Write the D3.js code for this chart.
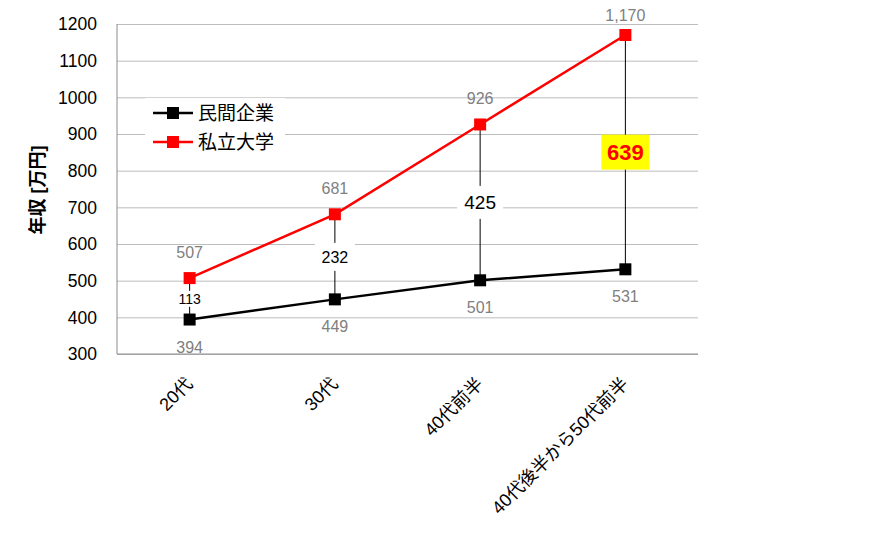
<!DOCTYPE html>
<html>
<head>
<meta charset="utf-8">
<title>年収</title>
<style>
  body { margin: 0; background: #fff; }
  svg text { font-family: "Liberation Sans", Arial, "Noto Sans CJK JP", sans-serif; }
  .grid line { stroke: #bdbdbd; stroke-width: 1; }
  .grid .domain { display: none; }
</style>
</head>
<body>
<svg width="874" height="540"></svg>
<script src="https://cdn.jsdelivr.net/npm/d3@7/dist/d3.min.js"></script>
<script>
var categories = ["20代", "30代", "40代前半", "40代後半から50代前半"];
var minkan = [394, 449, 501, 531];
var shiritsu = [507, 681, 926, 1170];
var yTicks = [300, 400, 500, 600, 700, 800, 900, 1000, 1100, 1200];
var seriesNames = ["民間企業", "私立大学"];
var seriesColors = ["#000000", "#ff0000"];

var svg = d3.select("svg");
var margin = {left: 117, right: 176, top: 24, bottom: 186};
var width = 874 - margin.left - margin.right,
    height = 540 - margin.top - margin.bottom;
var g = svg.append("g").attr("transform", "translate(" + margin.left + "," + margin.top + ")");

var x = d3.scaleBand().domain(categories).range([0, width]);
var y = d3.scaleLinear().domain([300, 1200]).range([height, 0]);
var cx = function(i) { return x(categories[i]) + x.bandwidth() / 2; };

// gridlines
g.append("g").attr("class", "grid")
  .call(d3.axisLeft(y).tickValues(yTicks).tickSize(-width).tickFormat(""));

// y tick labels
g.selectAll(".ylab").data(yTicks).enter().append("text")
  .attr("x", -20).attr("y", function(d) { return y(d); })
  .attr("dy", "0.36em").attr("text-anchor", "end")
  .style("font-size", "17.5px").attr("fill", "#000")
  .text(function(d) { return d; });

// axis lines
g.append("line").attr("x1", 0).attr("x2", 0).attr("y1", 0).attr("y2", height)
  .attr("stroke", "#8c8c8c").attr("stroke-width", 1);
g.append("line").attr("x1", 0).attr("x2", width).attr("y1", height).attr("y2", height)
  .attr("stroke", "#8c8c8c").attr("stroke-width", 1);

// y title
svg.append("text")
  .attr("transform", "translate(44,190) rotate(-90)")
  .attr("text-anchor", "middle")
  .style("font-size", "18px").style("font-weight", "bold")
  .text("年収 [万円]");

// x labels
g.selectAll(".xlab").data(categories).enter().append("text")
  .attr("transform", function(d, i) { return "translate(" + (cx(i) + 4) + "," + (height + 31) + ") rotate(-45)"; })
  .attr("text-anchor", "end")
  .style("font-size", "18px")
  .text(function(d) { return d; });

// difference lines
g.selectAll(".diff").data(categories).enter().append("line")
  .attr("x1", function(d, i) { return cx(i); }).attr("x2", function(d, i) { return cx(i); })
  .attr("y1", function(d, i) { return y(shiritsu[i]); })
  .attr("y2", function(d, i) { return y(minkan[i]); })
  .attr("stroke", "#000").attr("stroke-width", 1);

// series lines + markers
var line = d3.line().x(function(d, i) { return cx(i); }).y(function(d) { return y(d); });
[minkan, shiritsu].forEach(function(vals, s) {
  g.append("path").datum(vals).attr("d", line)
    .attr("fill", "none").attr("stroke", seriesColors[s]).attr("stroke-width", 2.5);
  g.selectAll(".m" + s).data(vals).enter().append("rect")
    .attr("x", function(d, i) { return cx(i) - 6; })
    .attr("y", function(d) { return y(d) - 6; })
    .attr("width", 12).attr("height", 12)
    .attr("fill", seriesColors[s]);
});

// value labels (kept inside the chart at the top)
g.selectAll(".lab1").data(shiritsu).enter().append("text")
  .attr("x", function(d, i) { return cx(i); })
  .attr("y", function(d) { return Math.max(y(d) - 20, -3); })
  .attr("text-anchor", "middle").style("font-size", "16px").attr("fill", "#808080")
  .text(function(d) { return d3.format(",")(d); });
g.selectAll(".lab0").data(minkan).enter().append("text")
  .attr("x", function(d, i) { return cx(i); })
  .attr("y", function(d) { return y(d) + 33; })
  .attr("text-anchor", "middle").style("font-size", "16px").attr("fill", "#808080")
  .text(function(d) { return d3.format(",")(d); });

// difference labels
var diffSize = [14, 16, 19, 22];
categories.forEach(function(c, i) {
  var d = shiritsu[i] - minkan[i];
  var my = (y(shiritsu[i]) + y(minkan[i])) / 2;
  var fs = diffSize[i];
  var last = i === categories.length - 1;
  var bw = [30, 40, 46, 48][i], bh = [16, 28, 33, 35][i];
  g.append("rect")
    .attr("x", cx(i) - bw / 2).attr("y", my - bh / 2)
    .attr("width", bw).attr("height", bh)
    .attr("fill", last ? "#ffff00" : "#fff");
  g.append("text")
    .attr("x", cx(i)).attr("y", my).attr("dy", "0.36em")
    .attr("text-anchor", "middle")
    .style("font-size", fs + "px")
    .style("font-weight", last ? "bold" : "normal")
    .attr("fill", last ? "#ff0000" : "#000")
    .text(d);
});

// legend
var legend = svg.append("g").attr("transform", "translate(145,98)");
legend.append("rect").attr("x", 0).attr("y", 0).attr("width", 140).attr("height", 60).attr("fill", "#fff");
var item = legend.selectAll(".item").data(seriesNames).enter().append("g")
  .attr("transform", function(d, i) { return "translate(0," + (15 + i * 29) + ")"; });
item.append("line").attr("x1", 8).attr("x2", 48).attr("y1", 0).attr("y2", 0)
  .attr("stroke", function(d, i) { return seriesColors[i]; }).attr("stroke-width", 2.5);
item.append("rect").attr("x", 22).attr("y", -6).attr("width", 12).attr("height", 12)
  .attr("fill", function(d, i) { return seriesColors[i]; });
item.append("text").attr("x", 53).attr("y", 0).attr("dy", "0.36em")
  .style("font-size", "19px").text(function(d) { return d; });
</script>
</body>
</html>
